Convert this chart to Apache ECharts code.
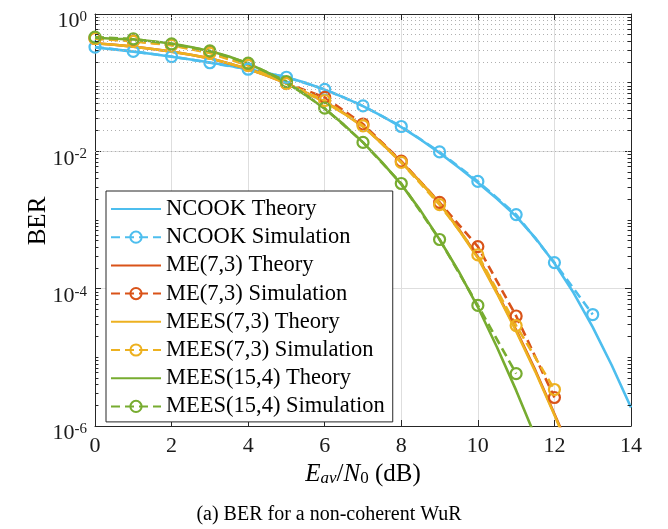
<!DOCTYPE html>
<html>
<head>
<meta charset="utf-8">
<script src="https://cdn.jsdelivr.net/npm/echarts@6/dist/echarts.min.js"></script>
<style>html,body{margin:0;padding:0;background:#fff}#c{width:668px;height:529px}</style>
</head>
<body>
<div id="c"></div>
<script>
// ---- data ----
const xTheory = [0,0.5,1,1.5,2,2.5,3,3.5,4,4.5,5,5.5,6,6.5,7,7.5,8,8.5,9,9.5,10,10.5,11,11.5,12,12.5,13,13.5,14];
const xSim = [0,1,2,3,4,5,6,7,8,9,10,11,12,13];

const ncookTheory = [0.325,0.305,0.283,0.261,0.239,0.218,0.197,0.177,0.157,0.138,0.12,0.1,0.079,0.061,0.0455,0.0325,0.0225,0.0149,0.0095,0.0058,0.0035,0.00204,0.00113,0.00055,0.000234,0.000087,0.0000275,0.0000076,0.00000186];
const ncookSim = [0.33,0.285,0.24,0.195,0.157,0.12,0.08,0.0459,0.023,0.0098,0.00365,0.0012,0.00024,0.000042];

const meTheory = [0.375,0.356,0.335,0.309,0.283,0.255,0.226,0.19,0.158,0.126,0.098,0.072,0.053,0.036,0.0232,0.0131,0.007,0.0036,0.00177,0.00074,0.00029,0.000088,0.000025,0.0000065,0.0000015,0.00000034];
const meSim = [0.44,0.405,0.355,0.275,0.18,0.098,0.061,0.025,0.0072,0.0018,0.00041,0.00004,0.0000026];

const meesTheory = [0.375,0.356,0.335,0.309,0.283,0.255,0.226,0.19,0.158,0.126,0.098,0.072,0.0525,0.0355,0.0229,0.0129,0.0069,0.00355,0.00174,0.00072,0.00028,0.000085,0.000024,0.0000062,0.00000145,0.00000032];
const meesSim = [0.44,0.40,0.35,0.27,0.178,0.097,0.055,0.0235,0.0069,0.00167,0.00031,0.000029,0.0000034];

const mees15Theory = [0.45,0.437,0.427,0.40,0.372,0.33,0.288,0.24,0.19,0.141,0.10,0.066,0.0417,0.0245,0.0135,0.0069,0.0033,0.00138,0.00052,0.000178,0.000054,0.000014,0.0000033,0.0000007];
const mees15Sim = [0.46,0.433,0.366,0.29,0.192,0.104,0.0425,0.0135,0.0034,0.00052,0.000057,0.0000058];

const seriesNames = ['NCOOK Theory','NCOOK Simulation','ME(7,3) Theory','ME(7,3) Simulation','MEES(7,3) Theory','MEES(7,3) Simulation','MEES(15,4) Theory','MEES(15,4) Simulation'];
const xTicks = [0,2,4,6,8,10,12,14];
const yDecades = [-6,-4,-2,0];

// ---- styling ----
const FONT = '"Liberation Serif","Times New Roman",serif';
const AX = '#262626';
const C_BLUE = '#4DBEEE', C_RED = '#D95319', C_ORANGE = '#EDB120', C_GREEN = '#77AC30';

function pairs(xs, ys) { return ys.map((y, i) => [xs[i], y]); }
function theory(name, ys, color) {
  return { name, type: 'line', data: pairs(xTheory, ys), symbol: 'none', clip: true,
    lineStyle: { color, width: 2.6 }, itemStyle: { color }, z: 3 };
}
function sim(name, ys, color) {
  return { name, type: 'line', data: pairs(xSim, ys), symbol: 'circle', symbolSize: 11, clip: true,
    lineStyle: { color, width: 2.6, type: [9, 5] },
    itemStyle: { color: 'rgba(255,255,255,0)', borderColor: color, borderWidth: 2.2 }, z: 3 };
}

// minor log positions (2..9 x 10^k, plus odd decades which are minor here)
const minorVals = [];
for (let k = yDecades[0]; k < 0; k++) for (let m = 1; m <= 9; m++) {
  if (m === 1 && k % 2 === 0) continue;
  minorVals.push(+(m * Math.pow(10, k)).toPrecision(3));
}
const xMin = xTicks[0], xMax = xTicks[xTicks.length - 1];
const minorTickLen = 0.09; // in x units (short inward ticks)

const chart = echarts.init(document.getElementById('c'));
chart.setOption({
  animation: false,
  backgroundColor: '#fff',
  grid: { left: 95, right: 37, top: 14, bottom: 103, containLabel: false },
  legend: {
    orient: 'vertical', left: 106, top: 191, z: 10,
    itemWidth: 50, itemHeight: 14, itemGap: 5.2,
    padding: [6.5, 8, 4, 4],
    borderColor: AX, borderWidth: 1, backgroundColor: '#fff',
    textStyle: { fontFamily: FONT, fontSize: 22.5, color: '#000' },
    data: seriesNames.map((n, i) => i % 2 === 0 ? { name: n, itemStyle: { opacity: 0 } } : { name: n })
  },
  xAxis: [{
    type: 'value', min: xMin, max: xMax, interval: 2, position: 'bottom',
    axisLine: { show: true, onZero: false, lineStyle: { color: AX, width: 1 } },
    axisTick: { show: true, inside: true, length: 6, lineStyle: { color: AX } },
    axisLabel: { fontFamily: FONT, fontSize: 22, color: '#1a1a1a', margin: 9 },
    splitLine: { show: true, lineStyle: { color: '#dedede', width: 1 } },
    name: '{i|E}{si|av}{n|/}{i|N}{s0|0}{n| (dB)}',
    nameLocation: 'middle', nameGap: 30,
    nameTextStyle: {
      fontFamily: FONT, color: '#000',
      rich: {
        i: { fontFamily: FONT, fontStyle: 'italic', fontSize: 25, lineHeight: 25, verticalAlign: 'top' },
        n: { fontFamily: FONT, fontSize: 25, lineHeight: 25, verticalAlign: 'top' },
        si: { fontFamily: FONT, fontStyle: 'italic', fontSize: 17, lineHeight: 13, verticalAlign: 'bottom' },
        s0: { fontFamily: FONT, fontSize: 17, lineHeight: 13, verticalAlign: 'bottom' }
      }
    }
  }, {
    type: 'value', min: xMin, max: xMax, interval: 2, position: 'top',
    axisLine: { show: true, onZero: false, lineStyle: { color: AX, width: 1 } },
    axisTick: { show: true, inside: true, length: 6, lineStyle: { color: AX } },
    axisLabel: { show: false }, splitLine: { show: false }
  }],
  yAxis: [{
    type: 'log', logBase: 10, min: Math.pow(10, yDecades[0]), max: 1, interval: 2, position: 'left',
    axisLine: { show: true, onZero: false, lineStyle: { color: AX, width: 1 } },
    axisTick: { show: true, inside: true, length: 6, lineStyle: { color: AX } },
    axisLabel: {
      margin: 8, color: '#1a1a1a', padding: [15, 0, 0, 0],
      formatter: v => '{b|10}{s|' + Math.round(Math.log10(v)) + '}',
      rich: {
        b: { fontFamily: FONT, fontSize: 22, lineHeight: 24, color: '#1a1a1a' },
        s: { fontFamily: FONT, fontSize: 15, lineHeight: 10, verticalAlign: 'top', color: '#1a1a1a' }
      }
    },
    splitLine: { show: true, lineStyle: { color: '#dedede', width: 1 } }
  }, {
    type: 'log', logBase: 10, min: Math.pow(10, yDecades[0]), max: 1, interval: 2, position: 'right',
    axisLine: { show: true, onZero: false, lineStyle: { color: AX, width: 1 } },
    axisTick: { show: true, inside: true, length: 6, lineStyle: { color: AX } },
    axisLabel: { show: false }, splitLine: { show: false }
  }],
  graphic: [{
    type: 'text', x: 38, y: 221, rotation: Math.PI / 2,
    style: { text: 'BER', fontFamily: FONT, fontSize: 25, fill: '#000', align: 'center', verticalAlign: 'middle' }
  }, {
    type: 'text', x: 329, y: 515,
    style: { text: '(a) BER for a non-coherent WuR', fontFamily: FONT, fontSize: 20, fill: '#000', align: 'center', verticalAlign: 'middle' }
  }],
  series: [
    { name: 'minor-grid', type: 'line', data: [], silent: true, z: 1,
      markLine: { silent: true, symbol: 'none', animation: false, label: { show: false },
        lineStyle: { color: '#b0b0b0', type: [1, 3], width: 1 },
        emphasis: { disabled: true },
        data: minorVals.map(v => ({ yAxis: v })) } },
    { name: 'minor-ticks', type: 'line', data: [], silent: true, z: 5,
      markLine: { silent: true, symbol: 'none', animation: false, label: { show: false },
        lineStyle: { color: AX, type: 'solid', width: 1 },
        emphasis: { disabled: true },
        data: minorVals.flatMap(v => [
          [{ coord: [xMin, v] }, { coord: [xMin + minorTickLen, v] }],
          [{ coord: [xMax - minorTickLen, v] }, { coord: [xMax, v] }]
        ]) } },
    theory(seriesNames[0], ncookTheory, C_BLUE),
    sim(seriesNames[1], ncookSim, C_BLUE),
    theory(seriesNames[2], meTheory, C_RED),
    sim(seriesNames[3], meSim, C_RED),
    theory(seriesNames[4], meesTheory, C_ORANGE),
    sim(seriesNames[5], meesSim, C_ORANGE),
    theory(seriesNames[6], mees15Theory, C_GREEN),
    sim(seriesNames[7], mees15Sim, C_GREEN)
  ]
});
</script>
</body>
</html>
